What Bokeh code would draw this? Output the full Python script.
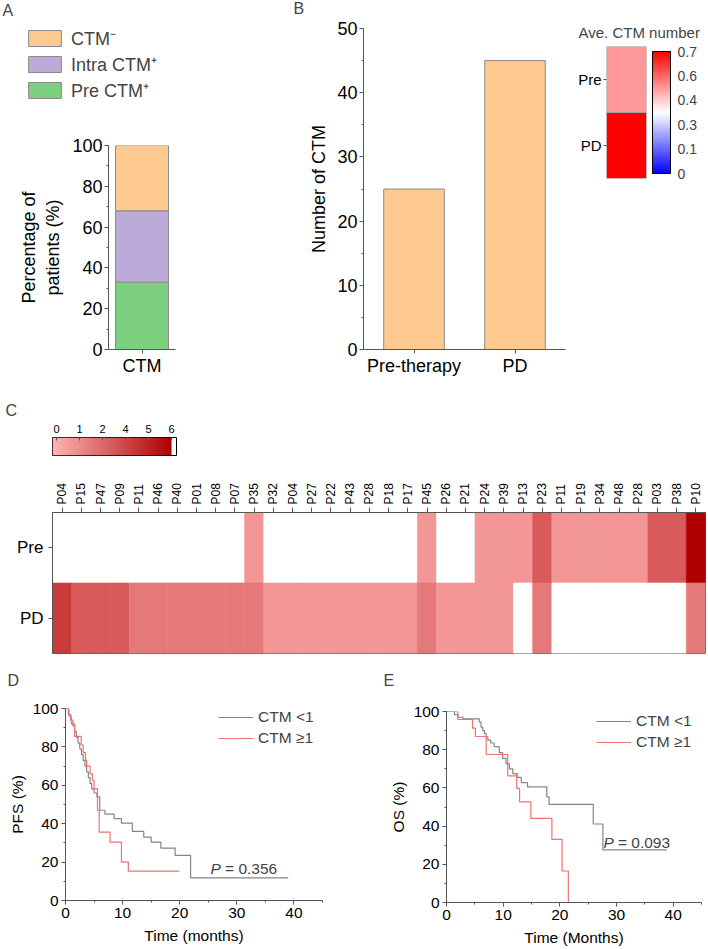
import numpy as np
from bokeh.plotting import figure
from bokeh.layouts import row, column
from bokeh.models import (Range1d, FactorRange, FixedTicker, SingleIntervalTicker, Legend,
                          LegendItem, Label, LinearColorMapper, ColorBar,
                          CustomJSTickFormatter, ColumnDataSource)
from bokeh.transform import transform
from bokeh.embed import file_html
from bokeh.resources import INLINE

FONT = "Liberation Sans"

# ---------------- data ----------------
# Panel A
a_category = ["CTM"]
a_groups = ["Pre CTM⁺", "Intra CTM⁺", "CTM⁻"]
a_pre = [33]
a_intra = [35]
a_neg = [32]

# Panel B
b_categories = ["Pre-therapy", "PD"]
b_counts = [25, 45]
b_ave_rows = ["Pre", "PD"]
b_ave_col = ["Ave"]
b_ave_values = [0.49, 0.88]
b_ave_ticks = [0, 0.14, 0.28, 0.42, 0.56, 0.7]

# Panel C
c_patients = ["P04", "P15", "P47", "P09", "P11", "P46", "P40", "P01", "P08", "P07",
              "P35", "P32", "P04", "P27", "P22", "P43", "P28", "P18", "P17", "P45",
              "P26", "P21", "P24", "P39", "P13", "P23", "P11", "P19", "P34", "P48",
              "P28", "P03", "P38", "P10"]
c_pre = [0, 0, 0, 0, 0, 0, 0, 0, 0, 0,
         1, 0, 0, 0, 0, 0, 0, 0, 0, 1,
         0, 0, 1, 1, 1, 3, 1, 1, 1, 1,
         1, 3, 3, 6]
c_pd = [4, 3, 3, 3, 2, 2, 2, 2, 2, 2,
        2, 1, 1, 1, 1, 1, 1, 1, 1, 2,
        1, 1, 1, 1, 0, 2, 0, 0, 0, 0,
        0, 0, 0, 2]
c_rows = ["PD", "Pre"]
c_cbar_ticks = [0, 1.2, 2.4, 3.6, 4.8, 6.0]

# Panel D (PFS)
d_lo_t = [0, 0.5, 0.9, 1.3, 1.6, 1.9, 2.2, 2.5, 2.8, 3.1, 3.4, 3.7, 4.0, 4.3, 4.6, 5.0, 5.5,
          6.0, 6.9, 8.5, 9.8, 11.7, 13.7, 15.0, 16.7, 19.2, 21.9, 39.0]
d_lo_s = [100, 97, 94, 91, 88, 85, 82, 79, 76, 73, 70, 67, 64, 61, 58, 56, 54,
          47, 45, 42.6, 40.3, 36, 33, 30.4, 27.3, 23.5, 11.8, 11.8]
d_hi_t = [0, 0.6, 1.0, 1.6, 2.75, 3.1, 3.5, 3.7, 4.3, 4.7, 5.0, 5.6, 5.9, 7.8, 9.8, 11.0, 19.9]
d_hi_s = [100, 96, 92, 85.5, 81, 77, 73, 70, 66, 62.5, 58.3, 47, 35.6, 30.4, 20, 15.3, 15.3]
d_p = "0.356"

# Panel E (OS)
e_lo_t = [0, 1.4, 2.0, 2.9, 5.8, 6.1, 6.4, 6.7, 7.0, 7.3, 7.8, 8.4, 9.3, 9.9, 10.5, 11.1,
          11.7, 12.5, 13.2, 14.3, 17.7, 18.1, 25.9, 27.6, 38.9]
e_lo_s = [100, 98.4, 97, 96.1, 94.4, 91.8, 90, 88.4, 86.7, 85, 83.5, 81.6, 78.5, 75.5, 72.7, 70,
          67.5, 65.5, 62.8, 60.5, 55.3, 51.4, 41.1, 27.6, 27.6]
e_hi_t = [0, 2.0, 4.6, 5.1, 7.0, 10.8, 12.4, 12.9, 14.9, 18.6, 20.4, 21.5]
e_hi_s = [100, 95.8, 91.3, 86.9, 77.5, 66.3, 59.7, 52.7, 44, 33, 16.5, 0]
e_p = "0.093"

km_labels = ["CTM <1", "CTM ≥1"]
panel_letters = ["A", "B", "C", "D", "E"]

# ---------------- styling ----------------
AX = "#555555"
ORANGE = "#ffca8f"
PURPLE = "#bcaad8"
GREEN = "#7dd07e"
BAR_LINE = "#8a8a8a"
KM_GRAY = "#858585"
KM_RED = "#f27070"


def blend(c1, c2, f):
    return "#%02x%02x%02x" % tuple(int(round(a + (b - a) * f)) for a, b in zip(c1, c2))


bwr = ([blend((0, 0, 255), (255, 255, 255), i / 127) for i in range(128)] +
       [blend((255, 255, 255), (255, 0, 0), i / 127) for i in range(128)])
reds = [blend((255, 180, 180), (176, 0, 0), i / 255) for i in range(256)]


def make_fig(w, h, l, r, t, b, title=None, t_offset=0, t_standoff=10, t_size="16px", **kw):
    p = figure(width=w, height=h, output_backend="svg", toolbar_location=None,
               min_border_left=l, min_border_right=r, min_border_top=t,
               min_border_bottom=b, title=title, **kw)
    p.outline_line_color = None
    p.xgrid.visible = False
    p.ygrid.visible = False
    if title is not None:
        p.title.text_font = FONT
        p.title.text_font_size = t_size
        p.title.text_font_style = "normal"
        p.title.align = "left"
        p.title.offset = t_offset
        p.title.standoff = t_standoff
    return p


def style_axes(p, tick_fs, label_fs):
    for ax in p.axis:
        ax.axis_line_color = AX
        ax.major_tick_line_color = AX
        ax.minor_tick_line_color = AX
        ax.major_tick_in = 0
        ax.major_tick_out = 4
        ax.minor_tick_in = 0
        ax.minor_tick_out = 2
        ax.major_label_text_font = FONT
        ax.major_label_text_font_size = tick_fs
        ax.major_label_text_color = "black"
        ax.axis_label_text_font = FONT
        ax.axis_label_text_font_size = label_fs
        ax.axis_label_text_font_style = "normal"
        ax.axis_label_text_color = "black"


def letter(p, text, x, y):
    p.add_layout(Label(x=x, y=y, x_units="screen", y_units="screen", text=text,
                       text_font=FONT, text_font_size="16px", text_baseline="middle",
                       text_align="left"))


srcA = ColumnDataSource(dict(cat=a_category, pre=a_pre, intra=a_intra, neg=a_neg))

# ---------------- Panel A: header strip (panel letters + legend) ----------------
# numeric x range: the categorical bars are not placed here, only their legend is shown
pa_top = make_fig(306, 110, 0, 0, 0, 0, x_range=Range1d(0, 1),
                  y_range=Range1d(0, 100), x_axis_location=None, y_axis_location=None)
rT = pa_top.vbar_stack(["pre", "intra", "neg"], x="cat", width=0.79, source=srcA,
                       fill_color=[GREEN, PURPLE, ORANGE], line_color=BAR_LINE, line_width=1)
legA = Legend(items=[LegendItem(label=a_groups[2], renderers=[rT[2]]),
                     LegendItem(label=a_groups[1], renderers=[rT[1]]),
                     LegendItem(label=a_groups[0], renderers=[rT[0]])],
              location=(24, 8), glyph_width=41, glyph_height=20, label_height=20,
              spacing=2, padding=0, margin=0, label_standoff=6,
              label_text_font=FONT, label_text_font_size="18px",
              border_line_color=None, background_fill_alpha=0)
pa_top.add_layout(legA)
letter(pa_top, panel_letters[0], 2, 100)
letter(pa_top, panel_letters[1], 293, 102)

# ---------------- Panel A: stacked bar ----------------
pa = make_fig(306, 268, 108, 131, 35, 28,
              x_range=FactorRange(*a_category), y_range=Range1d(0, 100))
pa.vbar_stack(["pre", "intra", "neg"], x="cat", width=0.79, source=srcA,
              fill_color=[GREEN, PURPLE, ORANGE], line_color=BAR_LINE, line_width=1)
style_axes(pa, "18px", "18px")
pa.yaxis.ticker = SingleIntervalTicker(interval=20, num_minor_ticks=2)
pa.yaxis.axis_label = "Percentage of\npatients (%)"
pa.yaxis.axis_label_standoff = 6
pa.yaxis.major_label_standoff = 2
pa.xaxis.major_label_standoff = 2

# ---------------- Panel B ----------------
pb = make_fig(264, 378, 57, 5, 28, 21,
              x_range=FactorRange(*b_categories), y_range=Range1d(0, 50))
pb.vbar(x=b_categories, top=b_counts, width=0.6, fill_color=ORANGE,
        line_color=BAR_LINE, line_width=1)
style_axes(pb, "18px", "18px")
pb.yaxis.ticker = SingleIntervalTicker(interval=10, num_minor_ticks=2)
pb.yaxis.axis_label = "Number of CTM"
pb.yaxis.axis_label_standoff = 5
pb.yaxis.major_label_standoff = 2
pb.xaxis.major_label_standoff = 2

# ---------------- Panel B inset ----------------
mapper_b = LinearColorMapper(palette=bwr, low=0, high=0.7)
pi = make_fig(138, 378, 36, 62, 46, 200, title="Ave. CTM number", t_offset=-28,
              t_standoff=12, t_size="15px",
              x_range=FactorRange(*b_ave_col), y_range=FactorRange(*b_ave_rows[::-1]))
srcI = ColumnDataSource(dict(x=b_ave_col * len(b_ave_rows), y=b_ave_rows, v=b_ave_values))
pi.rect(x="x", y="y", width=1, height=1, source=srcI,
        fill_color=transform("v", mapper_b), line_color="#a0a0a0", line_width=1)
style_axes(pi, "15px", "15px")
pi.xaxis.visible = False
pi.yaxis.axis_line_color = None
pi.yaxis.major_tick_out = 3
pi.yaxis.major_label_standoff = 2
cb = ColorBar(color_mapper=mapper_b, ticker=FixedTicker(ticks=b_ave_ticks),
              formatter=CustomJSTickFormatter(code="return tick == 0 ? '0' : tick.toFixed(1);"),
              width=18, height=122, location=(6, 5), padding=0, margin=0,
              bar_line_color="black", major_tick_line_color=None,
              label_standoff=7, major_label_text_font=FONT,
              major_label_text_font_size="14px",
              background_fill_alpha=0, border_line_color=None)
pi.add_layout(cb, "right")

# ---------------- Panel C colour bar ----------------
mapper_c = LinearColorMapper(palette=reds, low=0.001, high=max(c_cbar_ticks), low_color="white")
cb_range = Range1d(-0.209, 6.26)
pcb = make_fig(708, 82, 52, 532, 59, 5, title=panel_letters[2], t_offset=-47, t_standoff=5,
               x_range=cb_range, y_range=Range1d(0, 1),
               x_axis_location="above", y_axis_location=None)
grad = np.linspace(0.01, max(c_cbar_ticks), 256)[None, :]
pcb.image(image=[grad], x=cb_range.start, y=0, dw=max(c_cbar_ticks) - cb_range.start, dh=1,
          color_mapper=mapper_c)
pcb.outline_line_color = "black"
pcb.outline_line_width = 1
style_axes(pcb, "11px", "11px")
pcb.xaxis.ticker = FixedTicker(ticks=c_cbar_ticks)
pcb.xaxis.formatter = CustomJSTickFormatter(code="return Math.round(tick).toString();")
pcb.xaxis.axis_line_color = None
pcb.xaxis.major_tick_in = 3
pcb.xaxis.major_tick_out = 0
pcb.xaxis.major_label_standoff = 5

# ---------------- Panel C heatmap ----------------
n = len(c_patients)
ph = make_fig(708, 205, 52, 3, 52, 12, x_range=Range1d(-0.5, n - 0.5),
              y_range=FactorRange(*c_rows), x_axis_location="above")
srcC = ColumnDataSource(dict(x=list(range(n)) * 2, y=["Pre"] * n + ["PD"] * n, v=c_pre + c_pd))
ph.rect(x="x", y="y", width=1, height=1, source=srcC,
        fill_color=transform("v", mapper_c), line_color=transform("v", mapper_c), line_width=0.6)
ph.outline_line_color = AX
style_axes(ph, "12px", "12px")
ph.xaxis.ticker = FixedTicker(ticks=list(range(n)))
ph.xaxis.major_label_overrides = {i: lab for i, lab in enumerate(c_patients)}
ph.xaxis.major_label_orientation = "vertical"
ph.xaxis.major_tick_out = 5
ph.xaxis.major_label_standoff = 3
ph.yaxis.major_label_text_font_size = "17px"
ph.yaxis.major_label_standoff = 5

# ---------------- Panel D / E header strip ----------------
p_de = make_fig(708, 30, 0, 0, 0, 0, x_range=Range1d(0, 1), y_range=Range1d(0, 1),
                x_axis_location=None, y_axis_location=None)
letter(p_de, panel_letters[3], 7, 15)
letter(p_de, panel_letters[4], 383, 15)


# ---------------- Panel D / E ----------------
def km_fig(w, l, r, t, b, lo_t, lo_s, hi_t, hi_s, ylab, xlab, leg_loc, pval, p_xy):
    p = make_fig(w, 253, l, r, t, b, x_range=Range1d(0, 45), y_range=Range1d(0, 100))
    r1 = p.step(lo_t, lo_s, mode="after", line_color=KM_GRAY, line_width=1.2)
    r2 = p.step(hi_t, hi_s, mode="after", line_color=KM_RED, line_width=1.2)
    style_axes(p, "15.5px", "15.5px")
    p.xaxis.ticker = SingleIntervalTicker(interval=10, num_minor_ticks=2)
    p.yaxis.ticker = SingleIntervalTicker(interval=20, num_minor_ticks=2)
    p.xaxis.axis_label = xlab
    p.yaxis.axis_label = ylab
    p.xaxis.major_label_standoff = 3
    p.yaxis.major_label_standoff = 3
    p.xaxis.axis_label_standoff = 6
    p.yaxis.axis_label_standoff = 4
    leg = Legend(items=[LegendItem(label=km_labels[0], renderers=[r1]),
                        LegendItem(label=km_labels[1], renderers=[r2])],
                 location=leg_loc, glyph_width=35, glyph_height=20, label_height=20,
                 spacing=1, padding=0, margin=0, label_standoff=5,
                 label_text_font=FONT, label_text_font_size="15.5px",
                 border_line_color=None, background_fill_alpha=0)
    p.add_layout(leg)
    p.add_layout(Label(x=p_xy[0], y=p_xy[1], text="P", text_font=FONT,
                       text_font_size="15.5px", text_font_style="italic",
                       text_baseline="middle"))
    p.add_layout(Label(x=p_xy[0], y=p_xy[1], x_offset=14.5, text="= " + pval,
                       text_font=FONT, text_font_size="15.5px", text_baseline="middle"))
    return p


pdfig = km_fig(355, 65, 33, 13, 48, d_lo_t, d_lo_s, d_hi_t, d_hi_s,
               "PFS (%)", "Time (months)", (153, 152), d_p, (25.4, 16.7))
pefig = km_fig(353, 91, 7, 16, 45, e_lo_t, e_lo_s, e_hi_t, e_hi_s,
               "OS (%)", "Time (Months)", (150, 150), e_p, (27.7, 31.2))

# each figure is wrapped in its own column so that Bokeh does not align frames
layout = column(
    row(column(column(pa_top), column(pa)), column(pb), column(pi)),
    column(pcb),
    column(ph),
    column(column(p_de), row(column(pdfig), column(pefig))),
)

open("out.html", "w").write(file_html(layout, INLINE))
